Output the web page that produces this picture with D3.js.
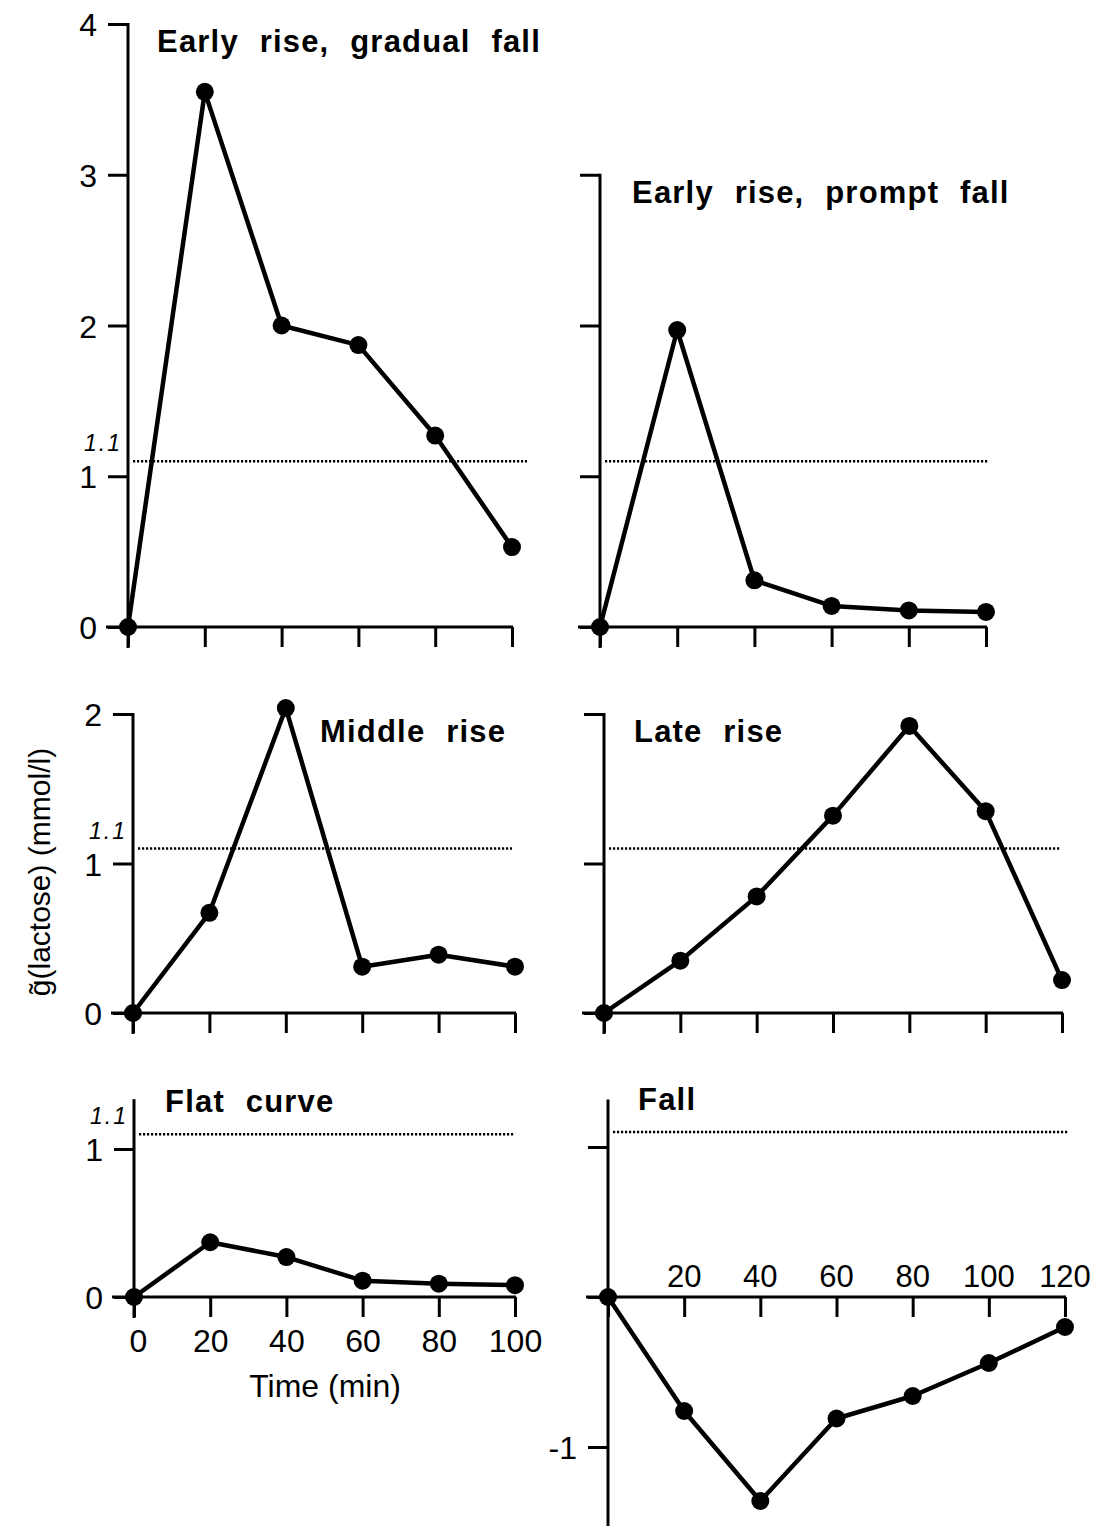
<!DOCTYPE html>
<html>
<head>
<meta charset="utf-8">
<script src="https://cdn.jsdelivr.net/npm/d3@7"></script>
<style>
  body { margin: 0; background: #fff; }
  text { font-family: "Liberation Sans", Arial, sans-serif; fill: #000; }
  .tick text { font-size: 32px; }
  .title { font-size: 31px; font-weight: bold; letter-spacing: 1.2px; word-spacing: 11px; }
  .ref { font-size: 23px; font-style: italic; letter-spacing: 2px; }
</style>
</head>
<body>
<script>
// Time points (min)
var times100 = [0, 20, 40, 60, 80, 100];
var times120 = [0, 20, 40, 60, 80, 100, 120];

// Lactose curves
var gradualFall = [0, 3.55, 2.0, 1.87, 1.27, 0.53];
var promptFall  = [0, 1.97, 0.31, 0.14, 0.11, 0.10];
var middleRise  = [0, 0.67, 2.04, 0.31, 0.39, 0.31];
var lateRise    = [0, 0.35, 0.78, 1.32, 1.92, 1.35, 0.22];
var flatCurve   = [0, 0.37, 0.27, 0.11, 0.09, 0.08];
var fallCurve   = [0, -0.76, -1.36, -0.81, -0.66, -0.44, -0.20];

var threshold = 1.1;
var titles = ["Early rise, gradual fall", "Early rise, prompt fall", "Middle rise",
              "Late rise", "Flat curve", "Fall"];

var width = 1100, height = 1526;

var svg = d3.select("body").append("svg")
  .attr("width", width)
  .attr("height", height);

// panel layout (pixel boxes only, values come from arrays above)
var panels = [
  { title: titles[0], t: times100, v: gradualFall, x: [128, 512], y: [627, 24], yd: [0, 4],
    top: 4, bottom: 0, yTicks: [0, 1, 2, 3, 4], yLabels: true, refLabel: true, tx: 157, ty: 52, refEnd: 527 },
  { title: titles[1], t: times100, v: promptFall, x: [600, 986], y: [627, 24], yd: [0, 4],
    top: 3, bottom: 0, yTicks: [0, 1, 2, 3], yLabels: false, refLabel: false, tx: 632, ty: 203, refEnd: 988 },
  { title: titles[2], t: times100, v: middleRise, x: [133, 515], y: [1013, 714], yd: [0, 2],
    top: 2, bottom: 0, yTicks: [0, 1, 2], yLabels: true, refLabel: true, tx: 320, ty: 742, refEnd: 512 },
  { title: titles[3], t: times120, v: lateRise, x: [604, 1062], y: [1013, 714], yd: [0, 2],
    top: 2, bottom: 0, yTicks: [0, 1, 2], yLabels: false, refLabel: false, tx: 634, ty: 742, refEnd: 1060 },
  { title: titles[4], t: times100, v: flatCurve, x: [134, 515], y: [1297, 1149], yd: [0, 1],
    top: 1.33, bottom: 0, yTicks: [0, 1], yLabels: true, refLabel: true, tx: 165, ty: 1112, refEnd: 515,
    xLabels: true },
  { title: titles[5], t: times120, v: fallCurve, x: [608, 1065], y: [1297, 1447], yd: [0, -1],
    top: 1.31, bottom: -1.53, yTicks: [-1, 0, 1], yLabels: true, hideLabel: [0, 1], refLabel: false,
    tx: 638, ty: 1110, refEnd: 1068, xLabelsAbove: true }
];

panels.forEach(function(p) {
  var tMax = d3.max(p.t);
  var x = d3.scaleLinear().domain([0, tMax]).range(p.x);
  var y = d3.scaleLinear().domain(p.yd).range(p.y);
  var g = svg.append("g");

  // y axis
  var yAxis = d3.axisLeft(y)
    .tickValues(p.yTicks)
    .tickSize(20)
    .tickPadding(11)
    .tickFormat(function(d) {
      if (!p.yLabels) return "";
      if (p.hideLabel && p.hideLabel.indexOf(d) >= 0) return "";
      return String(d);
    });
  var ya = g.append("g")
    .attr("transform", "translate(" + x(0) + ",0)")
    .call(yAxis);
  ya.select(".domain").remove();
  ya.selectAll(".tick line").attr("stroke", "#000").attr("stroke-width", 3);
  ya.selectAll(".tick text").attr("dy", "0.36em");

  // y axis spine, running past 0 for the time-0 tick
  var yBot = p.bottom < 0 ? y(p.bottom) : y(0) + 21;
  g.append("line")
    .attr("x1", x(0)).attr("x2", x(0))
    .attr("y1", y(p.top) - 1).attr("y2", yBot)
    .attr("stroke", "#000").attr("stroke-width", 3);

  // x axis
  var xAxis = d3.axisBottom(x)
    .tickValues(p.t)
    .tickSize(20)
    .tickPadding(12)
    .tickFormat(function(d) { return p.xLabels ? d : ""; });
  var xa = g.append("g")
    .attr("transform", "translate(0," + y(0) + ")")
    .call(xAxis);
  xa.select(".domain").remove();
  xa.selectAll(".tick line").attr("stroke", "#000").attr("stroke-width", 3);
  xa.selectAll(".tick text").attr("dx", function(d) { return d === 0 ? "4px" : 0; });
  g.append("line")
    .attr("x1", x(0) - 22).attr("x2", x(tMax) + 1)
    .attr("y1", y(0)).attr("y2", y(0))
    .attr("stroke", "#000").attr("stroke-width", 3);

  if (p.xLabelsAbove) {
    g.selectAll(".above")
      .data(p.t.filter(function(d) { return d > 0; }))
      .enter().append("text")
      .attr("class", "above")
      .attr("x", function(d) { return x(d); })
      .attr("y", y(0) - 10)
      .attr("text-anchor", "middle")
      .style("font-size", "31px")
      .text(function(d) { return d; });
  }

  // 1.1 reference line
  g.append("line")
    .attr("x1", x(0) + 5).attr("x2", p.refEnd)
    .attr("y1", y(threshold)).attr("y2", y(threshold))
    .attr("stroke", "#000").attr("stroke-width", 2.5)
    .attr("stroke-dasharray", "2.2,1.8");
  if (p.refLabel) {
    g.append("text")
      .attr("class", "ref")
      .attr("x", x(0) - 6)
      .attr("y", y(threshold) - 10)
      .attr("text-anchor", "end")
      .text("1.1");
  }

  // curve
  var pts = p.t.map(function(d, i) { return [d, p.v[i]]; });
  var line = d3.line()
    .x(function(d) { return x(d[0]); })
    .y(function(d) { return y(d[1]); });
  g.append("path")
    .datum(pts)
    .attr("d", line)
    .attr("fill", "none")
    .attr("stroke", "#000")
    .attr("stroke-width", 4.5)
    .attr("stroke-linejoin", "round");
  g.selectAll(".pt")
    .data(pts)
    .enter().append("circle")
    .attr("class", "pt")
    .attr("cx", function(d) { return x(d[0]); })
    .attr("cy", function(d) { return y(d[1]); })
    .attr("r", 9)
    .attr("fill", "#000");

  // panel title
  g.append("text")
    .attr("class", "title")
    .attr("x", p.tx)
    .attr("y", p.ty)
    .text(p.title);
});

// shared labels
svg.append("text")
  .attr("transform", "translate(50,872) rotate(-90)")
  .attr("text-anchor", "middle")
  .style("font-size", "30px")
  .text("g\u0303(lactose)  (mmol/l)");

svg.append("text")
  .attr("x", 325)
  .attr("y", 1397)
  .attr("text-anchor", "middle")
  .style("font-size", "32px")
  .text("Time (min)");
</script>
</body>
</html>
